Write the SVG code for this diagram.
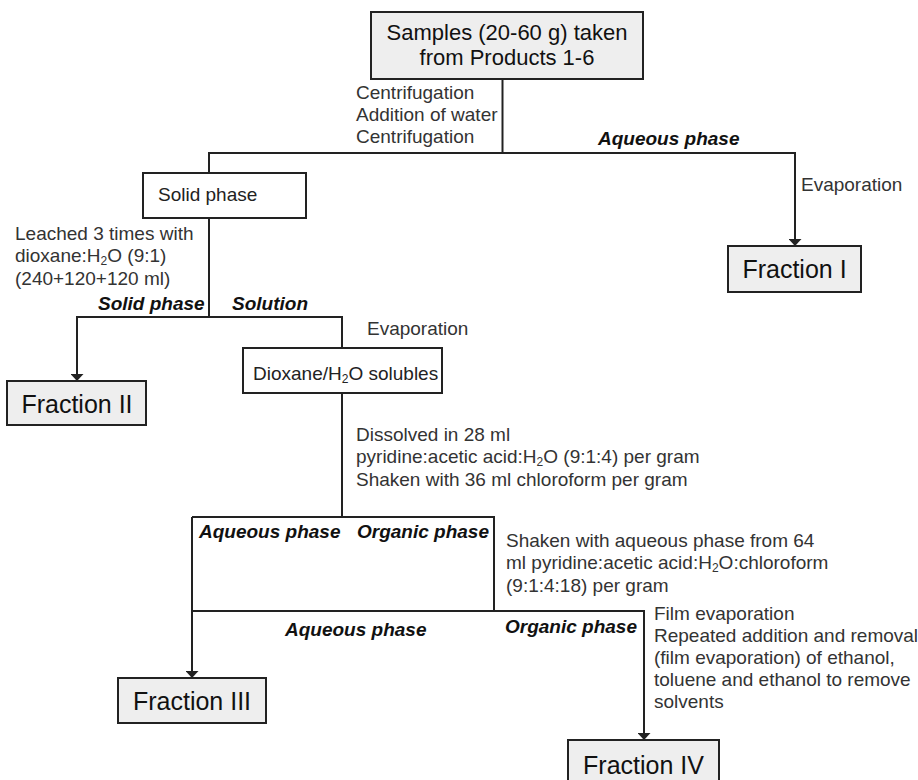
<svg xmlns="http://www.w3.org/2000/svg" width="918" height="780" viewBox="0 0 918 780">
<defs>
<marker id="arr" viewBox="0 0 7 13" refX="7" refY="6.5" markerWidth="7" markerHeight="13" markerUnits="userSpaceOnUse" orient="auto">
<path d="M0,0 L7,6.5 L0,13 z" fill="#222"/>
</marker>
<style>
text{font-family:"Liberation Sans",Arial,sans-serif;}
.lbl{font-size:19px;fill:#333;}
.bi{font-size:19px;font-weight:bold;font-style:italic;fill:#111;}
.frac{fill:#eeeeee;stroke:#222;stroke-width:2;}
.plain{fill:#ffffff;stroke:#222;stroke-width:2;}
.ft{font-size:25px;fill:#111;text-anchor:middle;}
.bt{font-size:19px;fill:#222;}
.ln{fill:none;stroke:#222;stroke-width:2;}
.sub{font-size:12px;}
</style>
</defs>
<rect width="918" height="780" fill="#ffffff"/>

<g id="connectors">
<path class="ln" d="M502.5,79 V153"/>
<path class="ln" d="M209,173 V153 H795 V246" marker-end="url(#arr)"/>
<path class="ln" d="M209,218 V317"/>
<path class="ln" d="M342,348 V317 H77 V381" marker-end="url(#arr)"/>
<path class="ln" d="M342,393 V517"/>
<path class="ln" d="M192,517 H494 V611"/>
<path class="ln" d="M192,517 V678" marker-end="url(#arr)"/>
<path class="ln" d="M192,611 H644 V740" marker-end="url(#arr)"/>
</g>

<g id="samples">
<rect class="frac" x="371" y="12" width="272" height="67"/>
<text x="507" y="40" font-size="22" fill="#111" text-anchor="middle">Samples (20-60 g) taken</text>
<text x="507" y="65" font-size="22" fill="#111" text-anchor="middle">from Products 1-6</text>
</g>

<g id="solid-phase">
<rect class="plain" x="143" y="173" width="163" height="45"/>
<text class="bt" x="158" y="201">Solid phase</text>
</g>

<g id="fraction-1">
<rect class="frac" x="728" y="246" width="133" height="46"/>
<text class="ft" x="794.5" y="278">Fraction I</text>
</g>

<g id="dioxane-solubles">
<rect class="plain" x="243" y="348" width="199" height="45"/>
<text class="bt" x="253" y="380">Dioxane/H<tspan class="sub" dy="3">2</tspan><tspan dy="-3">O solubles</tspan></text>
</g>

<g id="fraction-2">
<rect class="frac" x="7" y="381" width="139" height="44"/>
<text class="ft" x="77" y="413">Fraction II</text>
</g>

<g id="fraction-3">
<rect class="frac" x="118" y="678" width="148" height="45"/>
<text class="ft" x="192" y="710">Fraction III</text>
</g>

<g id="fraction-4">
<rect class="frac" x="568" y="740" width="151" height="46"/>
<text class="ft" x="643.5" y="774">Fraction IV</text>
</g>

<g id="labels">
<text class="lbl" x="356" y="99">Centrifugation</text>
<text class="lbl" x="356" y="121">Addition of water</text>
<text class="lbl" x="356" y="143">Centrifugation</text>
<text class="bi" x="598" y="145">Aqueous phase</text>
<text class="lbl" x="801" y="191">Evaporation</text>

<text class="lbl" x="15" y="240">Leached 3 times with</text>
<text class="lbl" x="15" y="262">dioxane:H<tspan class="sub" dy="3">2</tspan><tspan dy="-3">O (9:1)</tspan></text>
<text class="lbl" x="15" y="285">(240+120+120 ml)</text>
<text class="bi" x="98" y="310">Solid phase</text>
<text class="bi" x="232" y="310">Solution</text>
<text class="lbl" x="367" y="335">Evaporation</text>

<text class="lbl" x="356" y="441">Dissolved in 28 ml</text>
<text class="lbl" x="356" y="463">pyridine:acetic acid:H<tspan class="sub" dy="3">2</tspan><tspan dy="-3">O (9:1:4) per gram</tspan></text>
<text class="lbl" x="356" y="486">Shaken with 36 ml chloroform per gram</text>

<text class="bi" x="199" y="538">Aqueous phase</text>
<text class="bi" x="357" y="538">Organic phase</text>

<text class="lbl" x="506" y="547">Shaken with aqueous phase from 64</text>
<text class="lbl" x="506" y="569">ml pyridine:acetic acid:H<tspan class="sub" dy="3">2</tspan><tspan dy="-3">O:chloroform</tspan></text>
<text class="lbl" x="506" y="592">(9:1:4:18) per gram</text>

<text class="bi" x="285" y="636">Aqueous phase</text>
<text class="bi" x="505" y="633">Organic phase</text>

<text class="lbl" x="654" y="620">Film evaporation</text>
<text class="lbl" x="654" y="642">Repeated addition and removal</text>
<text class="lbl" x="654" y="664">(film evaporation) of ethanol,</text>
<text class="lbl" x="654" y="686">toluene and ethanol to remove</text>
<text class="lbl" x="654" y="708">solvents</text>
</g>
</svg>
